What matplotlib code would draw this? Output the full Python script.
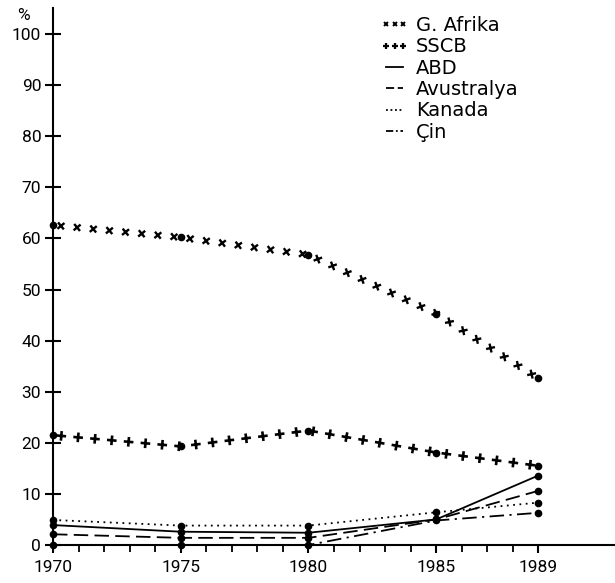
import numpy as np
import matplotlib
matplotlib.use('Agg')
import matplotlib.pyplot as plt
from matplotlib import patheffects as pe
from matplotlib.lines import Line2D

# ---- data ----
years = [1970, 1975, 1980, 1985, 1989]
g_afrika = [62.6, 60.2, 56.8, 45.3, 32.6]
sscb = [21.5, 19.3, 22.4, 18.1, 15.5]
abd = [3.9, 2.6, 2.4, 5.0, 13.6]
avustralya = [2.1, 1.4, 1.4, 5.0, 10.6]
kanada = [4.9, 3.8, 3.8, 6.4, 8.3]
cin = [0.0, 0.0, 0.0, 4.8, 6.3]

x_ticks = [1970, 1975, 1980, 1985, 1989]
x_minor = list(range(1970, 1990))
y_ticks = list(range(0, 101, 10))
legend_labels = ['G. Afrika', 'SSCB', 'ABD', 'Avustralya', 'Kanada', 'Çin']

plt.rcParams['font.family'] = ['Roboto', 'DejaVu Sans']

fig = plt.figure(figsize=(6.15, 5.83), dpi=100)
ax = fig.add_axes([53/615, 38/583, 1 - 53/615, (545 - 8)/583])
ax.set_xlim(1970, 1992)
ax.set_ylim(0, 105.1)

K = 'black'

def crosses(spacing, length, lw):
    return [pe.TickedStroke(spacing=spacing, angle=a, length=length, linewidth=lw, foreground=K)
            for a in (45, 225, 135, -45)]

def pluses(spacing, length, lw):
    return [pe.TickedStroke(spacing=spacing, angle=a, length=length, linewidth=lw, foreground=K)
            for a in (0, 180, 90, -90)]

# G. Afrika: row of x's
ln, = ax.plot(years, g_afrika, color=K, lw=1.7)
ln.set_path_effects(crosses(11.5, 0.21, 1.7))
# SSCB: row of +'s
ln, = ax.plot(years, sscb, color=K, lw=1.9)
ln.set_path_effects(pluses(12.0, 0.21, 1.9))

ax.plot(years, abd, color=K, lw=1.3, ls='-')
ax.plot(years, avustralya, color=K, lw=1.3, ls=(0, (8, 3.5)))
ax.plot(years, kanada, color=K, lw=1.3, ls=(0, (1, 2.5)))
ax.plot(years, cin, color=K, lw=1.3, ls=(0, (8, 3, 1.2, 3)))

for s in (g_afrika, sscb, abd, avustralya, kanada, cin):
    ax.plot(years, s, ls='none', marker='o', ms=4.5, color=K, zorder=5, clip_on=False)

# axes styling
for side in ('top', 'right'):
    ax.spines[side].set_visible(False)
ax.spines['left'].set_linewidth(1.5)
ax.spines['bottom'].set_linewidth(1.5)

ax.set_yticks(y_ticks)
ax.set_yticklabels([str(v) for v in y_ticks], fontsize=12.5)
ax.tick_params(axis='y', direction='inout', length=11, width=1.5, pad=3)

ax.set_xticks(x_ticks)
ax.set_xticklabels([str(v) for v in x_ticks], fontsize=12.5)
ax.set_xticks(x_minor, minor=True)
ax.tick_params(axis='x', which='major', direction='out', length=6, width=1.5, pad=5)
ax.tick_params(axis='x', which='minor', direction='out', length=5, width=1.3)

fig.text(23/615, 1 - 15/583, '%', fontsize=12.5, ha='center', va='center')

handles = [
    Line2D([], [], ls='none', marker='x', ms=3.5, mew=1.4, color=K),
    Line2D([], [], ls='none', marker='+', ms=4.5, mew=1.6, color=K),
    Line2D([], [], ls='-', lw=1.3, color=K),
    Line2D([], [], ls=(0, (4.5, 2)), lw=1.3, color=K),
    Line2D([], [], ls=(0, (1, 1.5)), lw=1.3, color=K),
    Line2D([], [], ls=(0, (4, 1.5, 1, 1.5)), lw=1.3, color=K),
]
leg = fig.legend(handles, legend_labels, loc='upper left',
                 bbox_to_anchor=(380/615, 1 - 16/583), frameon=False,
                 prop={'family': 'DejaVu Sans', 'size': 14},
                 handlelength=1.5, handletextpad=0.35,
                 labelspacing=0.12, borderpad=0, borderaxespad=0, numpoints=3)

fig.savefig('out.png', dpi=100)
